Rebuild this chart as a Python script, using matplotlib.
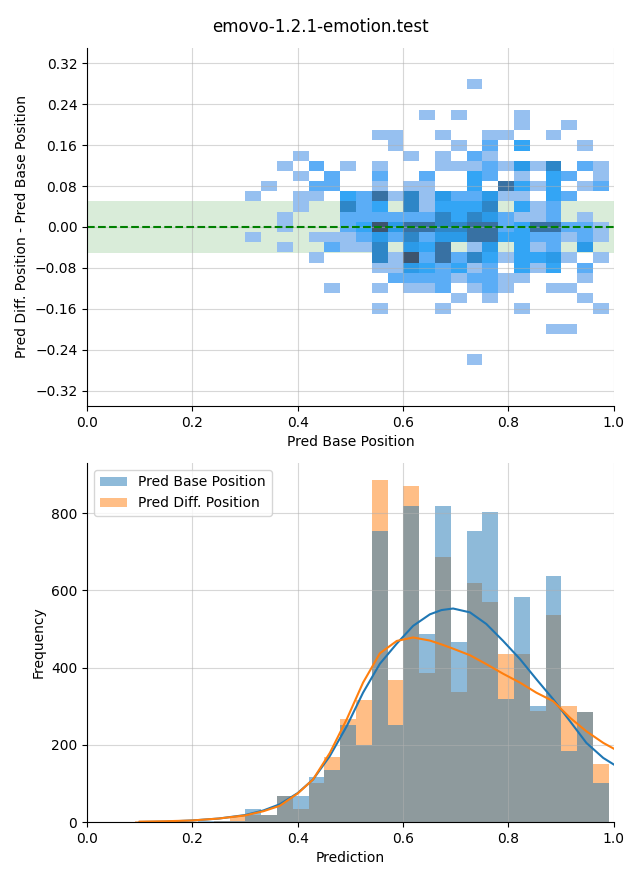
import numpy as np
import pandas as pd
import matplotlib
matplotlib.use("Agg")
import matplotlib.pyplot as plt
import seaborn as sns

title = "emovo-1.2.1-emotion.test"

# ---------------- bottom: histogram (shared bins) ----------------
hist_start = 0.0905
hist_binwidth = 0.03
hist_nbins = 30
series_names = ["Pred Base Position", "Pred Diff. Position"]
base_counts = [0, 1, 1, 1, 2, 2, 3, 34, 18, 68, 68, 117, 135, 252, 200,
               753, 252, 818, 486, 818, 467, 753, 803, 318, 584, 301, 636,
               185, 285, 102]
diff_counts = [3, 0, 1, 0, 1, 3, 15, 18, 18, 68, 34, 101, 169, 268, 317,
               886, 369, 870, 385, 686, 336, 618, 569, 434, 434, 287, 536,
               301, 285, 151]

# density curves (scaled to counts)
kde_x = [0.10, 0.15, 0.20, 0.25, 0.30, 0.335, 0.366, 0.40, 0.429, 0.461,
         0.493, 0.524, 0.556, 0.588, 0.619, 0.651, 0.673, 0.695, 0.727,
         0.758, 0.790, 0.822, 0.853, 0.885, 0.917, 0.948, 0.980, 1.0]
kde_base = [0, 1, 4, 9, 18, 30, 46, 75, 110, 171, 248, 335, 410, 462, 508,
            538, 549, 553, 543, 513, 469, 422, 370, 318, 261, 205, 166, 149]
kde_diff = [1, 2, 4, 9, 17, 28, 42, 74, 110, 179, 266, 361, 437, 469, 478,
            470, 460, 449, 432, 409, 384, 361, 335, 313, 270, 235, 205, 190]

# ---------------- top: 2D histogram cells ----------------
heat_x_start = 0.3005
heat_x_width = 0.03
heat_y_start = -0.269
heat_y_width = 0.01993
heat_levels = {"1": 1, "3": 3, "4": 4, "5": 5, "7": 7, "9": 9, "C": 12}
# rows from top (highest y) to bottom, columns from left (low x) to right
heat_rows = [
    "..............1........",
    ".......................",
    ".......................",
    "...........1.1...1.....",
    ".................1..1..",
    "........11..1..11..1...",
    ".........1...1.3.4...1.",
    "...1......1.1.31.......",
    "..1.3.1.1...11131517.31",
    "...1.3..3..3..43.1.43.1",
    ".1..33..1.11..4.9414.13",
    "1..11.439171533511.43..",
    "...1..734.714447.413...",
    "..1...33333374753113.1.",
    "..1...34C59977993499331",
    "1...1113537355994433131",
    "..1..3117.549.15.413.5.",
    "....1...71C3937414451.1",
    "........11543413.414.3.",
    ".........333313311...1.",
    ".....1..1.113.131..11..",
    ".............1.1.....1.",
    "........1...1....1....1",
    ".......................",
    "...................11..",
    ".......................",
    ".......................",
    "..............1........",
]

# ---- derived structures ----
n_cols = len(heat_rows[0])
n_rows = len(heat_rows)
x_edges = heat_x_start + heat_x_width * np.arange(n_cols + 1)
y_edges = heat_y_start + heat_y_width * np.arange(n_rows + 1)
hx, hy, hw = [], [], []
for i, row in enumerate(heat_rows):
    r = n_rows - 1 - i
    for c, ch in enumerate(row):
        if ch != ".":
            hx.append((x_edges[c] + x_edges[c + 1]) / 2)
            hy.append((y_edges[r] + y_edges[r + 1]) / 2)
            hw.append(heat_levels[ch])

h_edges = hist_start + hist_binwidth * np.arange(hist_nbins + 1)
h_centers = (h_edges[:-1] + h_edges[1:]) / 2
df = pd.DataFrame({
    "Prediction": np.concatenate([h_centers, h_centers]),
    "count": np.concatenate([base_counts, diff_counts]),
    "series": [series_names[0]] * hist_nbins + [series_names[1]] * hist_nbins,
})

fig = plt.figure(figsize=(6.4, 8.8), dpi=100)
ax1 = fig.add_axes([0.136, 0.5386, 0.823, 0.4069])
ax2 = fig.add_axes([0.136, 0.0659, 0.823, 0.408])

# ---- top plot ----
ax1.axhspan(-0.05, 0.05, color="green", alpha=0.15, zorder=0, linewidth=0)
sns.histplot(x=hx, y=hy, weights=hw, bins=(list(x_edges), list(y_edges)), ax=ax1)
ax1.axhline(0, color="green", linestyle="--", linewidth=1.5)
ax1.set_xlim(0, 1)
ax1.set_ylim(-0.35, 0.35)
ax1.set_yticks(np.round(np.arange(-0.32, 0.33, 0.08), 2))
ax1.set_xlabel("Pred Base Position")
ax1.set_ylabel("Pred Diff. Position - Pred Base Position")
ax1.grid(True, alpha=0.5)
sns.despine(ax=ax1)

# ---- bottom plot ----
sns.histplot(data=df, x="Prediction", hue="series", hue_order=series_names,
             weights="count", bins=list(h_edges), kde=False, linewidth=0,
             ax=ax2)
ax2.plot(kde_x, kde_base, color="C0", linewidth=1.5)
ax2.plot(kde_x, kde_diff, color="C1", linewidth=1.5)
ax2.set_xlim(0, 1)
ax2.set_ylim(0, 930)
ax2.set_xlabel("Prediction")
ax2.set_ylabel("Frequency")
ax2.grid(True, alpha=0.5)
sns.move_legend(ax2, "upper left", title=None)
sns.despine(ax=ax2)

fig.suptitle(title)
fig.savefig("out.png", dpi=100)
